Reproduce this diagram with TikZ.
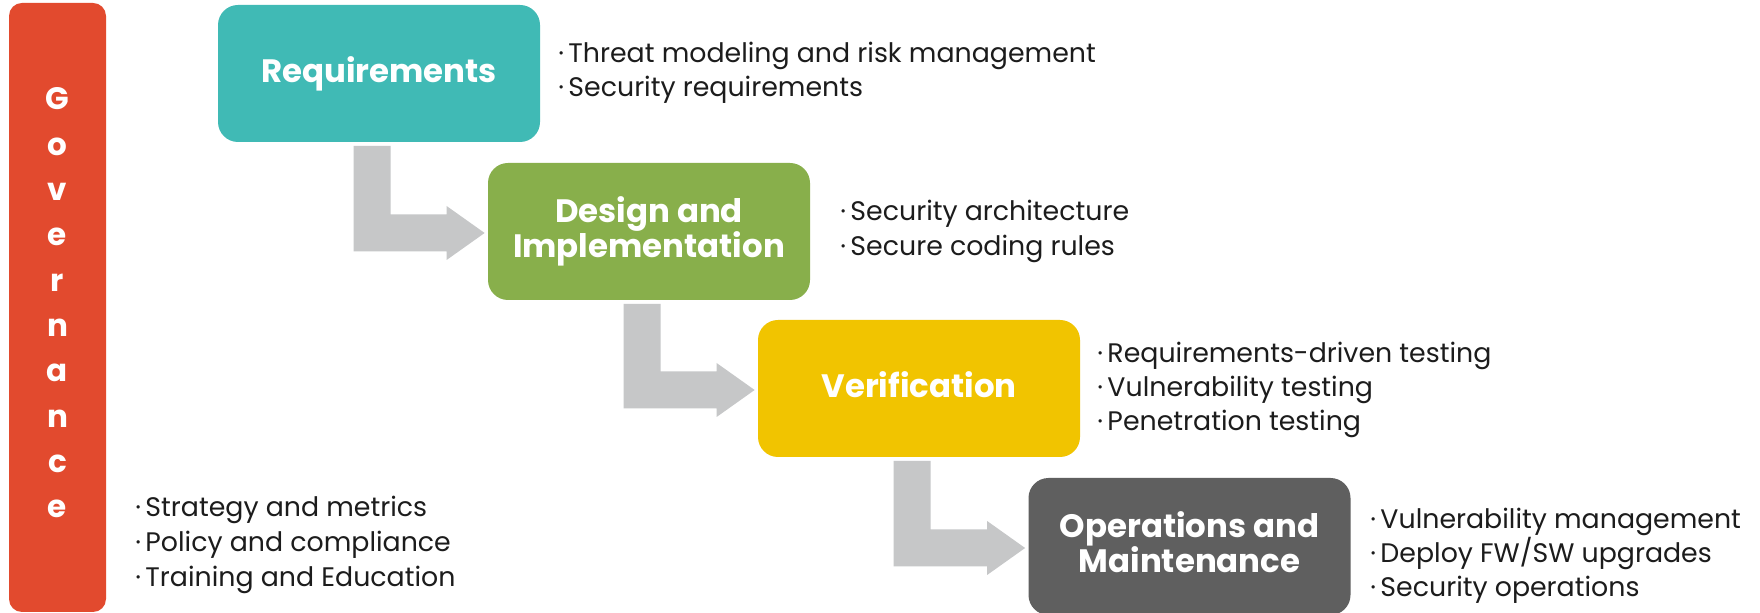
\documentclass[tikz,border=0pt]{standalone}
\usepackage{fontspec}
\setmainfont{Poppins}
\usetikzlibrary{calc}
\definecolor{govred}{HTML}{E24A2E}
\definecolor{reqteal}{HTML}{40BAB5}
\definecolor{desgreen}{HTML}{88AF4B}
\definecolor{veryellow}{HTML}{F1C400}
\definecolor{opsgray}{HTML}{5F5F5F}
\definecolor{arrowgray}{HTML}{C6C7C8}
\definecolor{bullettext}{HTML}{1C1C1C}
\tikzset{
  stagebox/.style={rounded corners=10pt, minimum width=161pt, minimum height=68.5pt, inner sep=0pt, draw=none},
  stagetitle/.style={anchor=base, text=white, inner sep=0pt, font=\fontsize{16.2}{16.2}\selectfont\bfseries},
  govletter/.style={anchor=base, text=white, inner sep=0pt, font=\fontsize{15.5}{15.5}\selectfont\bfseries},
  bulletline/.style={anchor=base west, text=bullettext, inner sep=0pt, font=\fontsize{13.4}{13.4}\selectfont},
}
\newcommand\elbowarrow[2]{%
  \fill[arrowgray] let \p1=(#1.south west), \p2=(#2.west) in
    (\x1+68pt,\y1-1.75pt) -- (\x1+86.5pt,\y1-1.75pt) -- (\x1+86.5pt,\y2+8.5pt)
    -- (\x2-20.5pt,\y2+8.5pt) -- (\x2-20.5pt,\y2+12.75pt) -- (\x2-1.5pt,\y2-0.75pt)
    -- (\x2-20.5pt,\y2-14.25pt) -- (\x2-20.5pt,\y2-10pt) -- (\x1+68pt,\y2-10pt) -- cycle;}
\newcommand\bul{·\hspace{2.2pt}}
\begin{document}
\begin{tikzpicture}[x=0.5pt,y=-0.5pt]
\useasboundingbox[fill=white] (0,0) rectangle (1760,613);
% governance bar
\node[fill=govred, rounded corners=6.5pt, minimum width=48.5pt, minimum height=304.5pt, inner sep=0pt] (gov) at (57.5,307.5) {};
\foreach \l [count=\i from 0] in {G,o,v,e,r,n,a,n,c,e}{
  \node[govletter] (gl\i) at (57.5,110+45.3*\i) {\l};
}
% stage boxes
\node[stagebox, fill=reqteal] (req) at (379,73.5) {};
\node[stagebox, fill=desgreen] (des) at (649,231.5) {};
\node[stagebox, fill=veryellow] (ver) at (919,388.5) {};
\node[stagebox, fill=opsgray] (ops) at (1189.5,546.5) {};
% titles
\node[stagetitle] (reqt) at ($(req.center)+(0,9.5)$) {Requirements};
\node[stagetitle] (dest1) at ($(des.center)+(0,-8.5)$) {Design and};
\node[stagetitle] (dest2) at ($(des.center)+(0,26.5)$) {Implementation};
\node[stagetitle] (vert) at ($(ver.center)+(0,9.5)$) {Verification};
\node[stagetitle] (opst1) at ($(ops.center)+(0,-8.5)$) {Operations and};
\node[stagetitle] (opst2) at ($(ops.center)+(0,26.5)$) {Maintenance};
% arrows
\elbowarrow{req}{des}
\elbowarrow{des}{ver}
\elbowarrow{ver}{ops}
% bullets
\node[bulletline] (rb1) at (558,63) {\bul Threat modeling and risk management};
\node[bulletline] (rb2) at (558,97) {\bul Security requirements};
\node[bulletline] (db1) at (840,221) {\bul Security architecture};
\node[bulletline] (db2) at (840,256) {\bul Secure coding rules};
\node[bulletline] (vb1) at (1097,363) {\bul Requirements-driven testing};
\node[bulletline] (vb2) at (1097,397) {\bul Vulnerability testing};
\node[bulletline] (vb3) at (1097,431) {\bul Penetration testing};
\node[bulletline] (ob1) at (1370,529) {\bul Vulnerability management};
\node[bulletline] (ob2) at (1370,563) {\bul Deploy FW/SW upgrades};
\node[bulletline] (ob3) at (1370,597) {\bul Security operations};
\node[bulletline] (gb1) at (135,517) {\bul Strategy and metrics};
\node[bulletline] (gb2) at (135,552) {\bul Policy and compliance};
\node[bulletline] (gb3) at (135,587) {\bul Training and Education};
\end{tikzpicture}
\end{document}
